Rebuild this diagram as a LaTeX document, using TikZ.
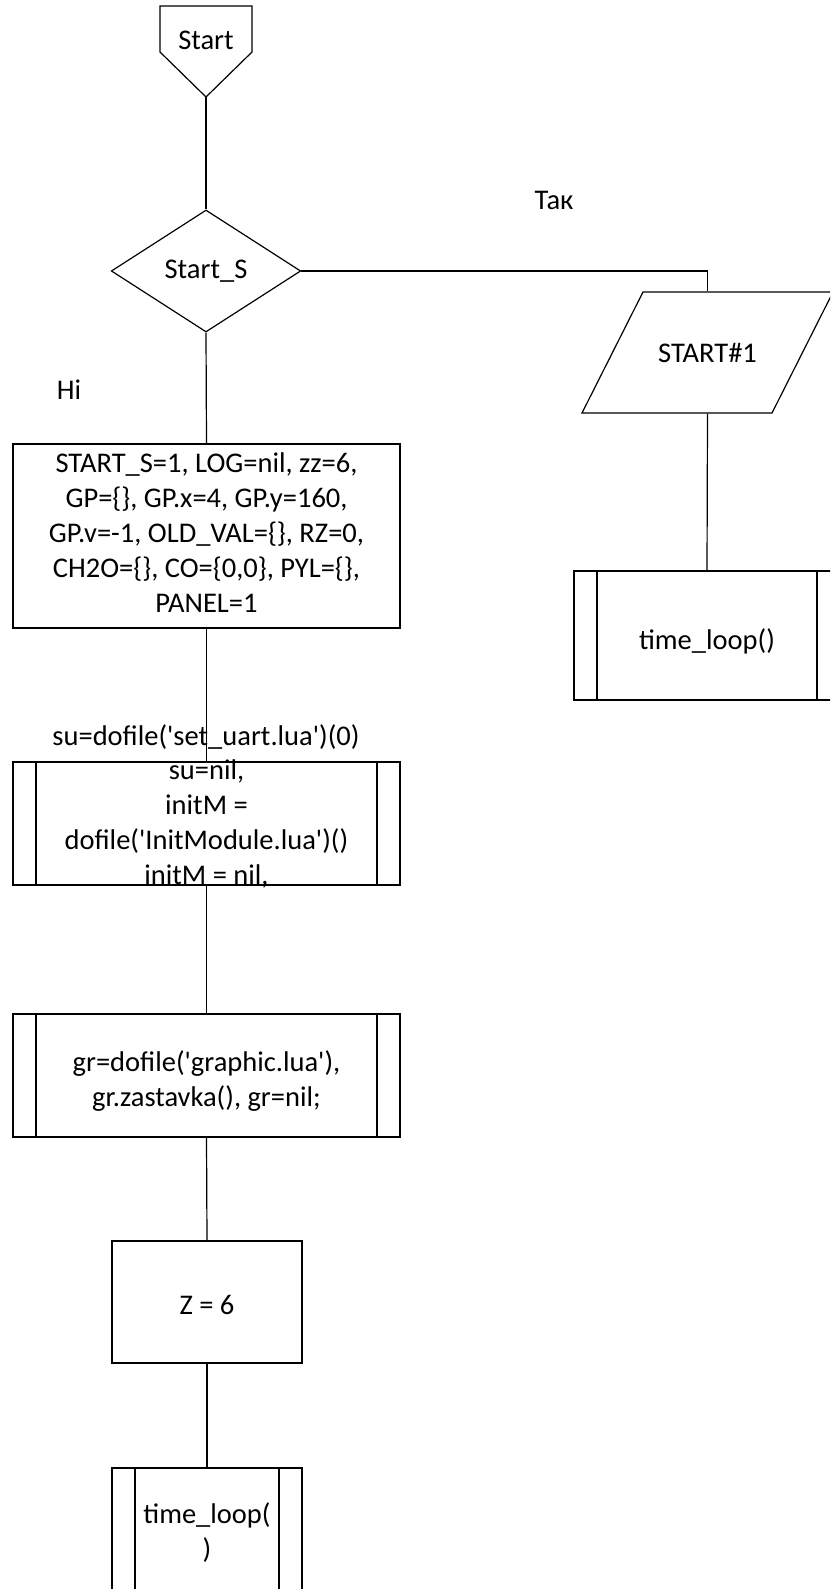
\documentclass[tikz,border=0pt]{standalone}
\usepackage{fontspec}
\setmainfont{Carlito}[Ligatures=TeXOff]
\usetikzlibrary{shapes.geometric,calc}
\begin{document}
\begin{tikzpicture}[x=1pt,y=-1pt,line width=1.2pt,
  every node/.style={font=\fontsize{28.5}{35}\selectfont, inner sep=0pt},
  box/.style={draw, rectangle, align=center},
  subr/.style={draw, rectangle, align=center,
    path picture={
      \draw ([xshift=23pt]path picture bounding box.north west) -- ([xshift=23pt]path picture bounding box.south west);
      \draw ([xshift=-23pt]path picture bounding box.north east) -- ([xshift=-23pt]path picture bounding box.south east);}},
  dec/.style={draw, diamond, aspect=1.553, minimum width=189.5pt, minimum height=122pt},
  lbl/.style={align=center},
  conn/.style={draw}]
\clip (0,0) rectangle (830,1589);
\fill[white] (0,0) rectangle (830,1589);
% Start (off-page connector shape)
\draw (160,6) -- (252,6) -- (252,52) -- (206,97) -- (160,52) -- cycle;
\node (start) at (206,40) {Start};
\coordinate (starttip) at (206,97);
% decision
\node[dec] (dec) at (206,271) {Start\_S};
\node[lbl] (yes) at (554,200) {Так};
\node[lbl] (no) at (69,390) {Ні};
% input/output
\draw (582,413) -- (643,292) -- (833,292) -- (772,413) -- cycle;
\node[minimum width=190pt, minimum height=121pt] (io) at (707.5,352.5) {START\#1};
% right subroutine
\node[subr, minimum width=266pt, minimum height=129pt] (tl1) at (707,635.5) {};
\node[lbl] (tl1text) at (707,641) {time\_loop()};
% left column
\node[box, minimum width=387pt, minimum height=184pt] (init) at (206.5,536) {};
\node[lbl] (inittext) at (206.5,533) {START\_S=1, LOG=nil, zz=6,\\GP=\{\}, GP.x=4, GP.y=160,\\GP.v=-1, OLD\_VAL=\{\}, RZ=0,\\CH2O=\{\}, CO=\{0,0\}, PYL=\{\},\\PANEL=1};
\node[lbl] (sulbl) at (206,737) {su=dofile('set\_uart.lua')(0)};
\node[subr, minimum width=387pt, minimum height=123pt] (mod) at (206.5,823.5) {};
\node[lbl] (modtext) at (206.5,824) {su=nil,\\initM =\\dofile('InitModule.lua')()\\initM = nil,};
\node[subr, minimum width=387pt, minimum height=123pt] (gr) at (206.5,1075.5) {};
\node[lbl] (grtext) at (206.5,1081) {gr=dofile('graphic.lua'),\\gr.zastavka(), gr=nil;};
\node[box, minimum width=190pt, minimum height=122pt] (z) at (207,1302) {};
\node[lbl] (ztext) at (207,1305) {Z = 6};
\node[subr, minimum width=190pt, minimum height=124pt] (tl2) at (207,1530) {};
\node[lbl] (tl2text) at (207,1533) {time\_loop(\\)};
% connectors
\draw[conn] (starttip) -- (dec.north);
\draw[conn] (dec.south) -- (init.north);
\draw[conn] (dec.east) -| (io.north);
\draw[conn] (io.south) -- (tl1.north);
\draw[conn] (init.south) -- (mod.north);
\draw[conn] (mod.south) -- (gr.north);
\draw[conn] (gr.south) -- (z.north);
\draw[conn] (z.south) -- (tl2.north);
\end{tikzpicture}
\end{document}
